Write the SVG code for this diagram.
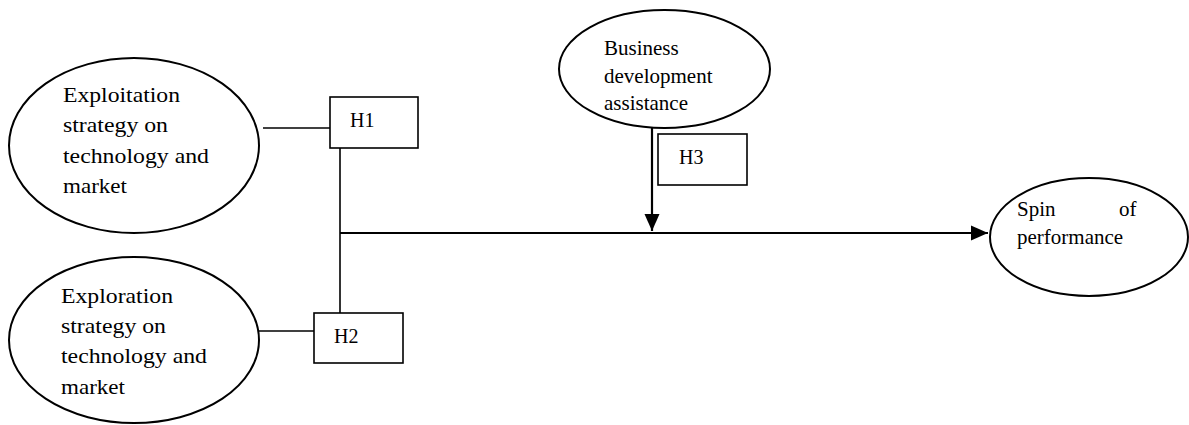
<svg xmlns="http://www.w3.org/2000/svg" width="1189" height="425" viewBox="0 0 1189 425">
<style>
.el{fill:#fff;stroke:#000;stroke-width:2}
.bx{fill:#fff;stroke:#000;stroke-width:1.6}
.t{font-family:"Liberation Serif","Times New Roman",serif;fill:#000}
.big{font-size:22px}
.mid{font-size:21px}
.h{font-size:20px}
.ln{stroke:#000;stroke-width:1.6;fill:none}
.ar{stroke:#000;stroke-width:2.2;fill:none}
</style>
<defs>
<marker id="ah" markerWidth="10" markerHeight="10" refX="9" refY="5" orient="auto" markerUnits="userSpaceOnUse">
<path d="M0,0 L9,5 L0,10 L0,0 Z" fill="#000"/>
</marker>
<marker id="ahb" markerWidth="18" markerHeight="16" refX="17" refY="8" orient="auto" markerUnits="userSpaceOnUse">
<path d="M0,0.5 L17,8 L0,15.5 Z" fill="#000"/>
</marker>
</defs>
<g id="connectors">
<line class="ln" x1="263" y1="128" x2="330" y2="128"/>
<line class="ln" x1="259" y1="331" x2="314" y2="331"/>
<line class="ln" x1="340" y1="148" x2="340" y2="313"/>
<line class="ar" x1="340" y1="233" x2="988" y2="233" marker-end="url(#ahb)"/>
<line class="ar" x1="652" y1="123" x2="652" y2="231" marker-end="url(#ahb)"/>
</g>
<g id="exploitation">
<ellipse class="el" cx="134" cy="145.5" rx="125" ry="87.5"/>
<text class="t big" x="63" y="102" textLength="117" lengthAdjust="spacingAndGlyphs">Exploitation</text>
<text class="t big" x="63" y="132" textLength="105" lengthAdjust="spacingAndGlyphs">strategy on</text>
<text class="t big" x="63" y="163" textLength="146" lengthAdjust="spacingAndGlyphs">technology and</text>
<text class="t big" x="63" y="193" textLength="64" lengthAdjust="spacingAndGlyphs">market</text>
</g>
<g id="exploration">
<ellipse class="el" cx="134" cy="340" rx="125" ry="83"/>
<text class="t big" x="61" y="303" textLength="112" lengthAdjust="spacingAndGlyphs">Exploration</text>
<text class="t big" x="61" y="333" textLength="105" lengthAdjust="spacingAndGlyphs">strategy on</text>
<text class="t big" x="61" y="363" textLength="146" lengthAdjust="spacingAndGlyphs">technology and</text>
<text class="t big" x="61" y="394" textLength="64" lengthAdjust="spacingAndGlyphs">market</text>
</g>
<g id="h1">
<rect class="bx" x="330" y="97" width="88" height="51"/>
<text class="t h" x="350" y="127">H1</text>
</g>
<g id="h2">
<rect class="bx" x="314" y="313" width="89" height="50"/>
<text class="t h" x="334" y="343">H2</text>
</g>
<g id="business">
<ellipse class="el" cx="664.5" cy="69" rx="105.5" ry="59"/>
<text class="t mid" x="604" y="55">Business</text>
<text class="t mid" x="604" y="83">development</text>
<text class="t mid" x="604" y="110">assistance</text>
</g>
<g id="h3">
<rect class="bx" x="658" y="134" width="89" height="51"/>
<text class="t h" x="679" y="164">H3</text>
</g>
<g id="spin">
<ellipse class="el" cx="1089" cy="237" rx="99" ry="59"/>
<text class="t mid" x="1017" y="216">Spin</text>
<text class="t mid" x="1119" y="216">of</text>
<text class="t mid" x="1017" y="244">performance</text>
</g>
</svg>
